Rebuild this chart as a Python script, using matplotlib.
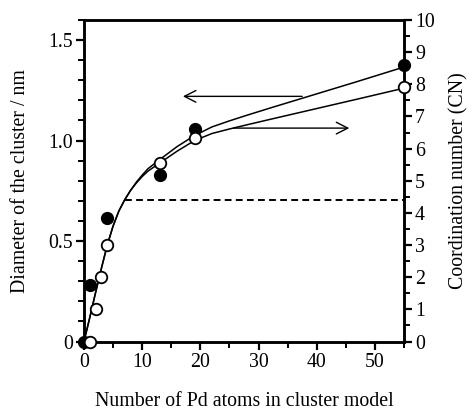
import matplotlib
matplotlib.use("Agg")
import matplotlib.pyplot as plt
from matplotlib.ticker import MultipleLocator

plt.rcParams['font.family'] = ['Liberation Serif', 'DejaVu Serif']

# Measured data: cluster diameter (nm, left axis)
d_atoms = [0, 1, 4, 13, 19, 55]
d_values = [0.0, 0.28, 0.615, 0.83, 1.06, 1.375]

# Measured data: coordination number (right axis)
cn_atoms = [1, 2, 3, 4, 13, 19, 55]
cn_values = [0.0, 1.0, 2.0, 3.0, 5.55, 6.32, 7.92]

# Fitted curve (diameter, nm)
fitd_atoms = [0, 1, 2, 3, 4, 5, 6, 7, 8, 9, 10, 11, 13, 16, 19, 22, 25, 28, 32, 37, 42, 47, 51, 55]
fitd_values = [0.0, 0.12, 0.245, 0.365, 0.48, 0.575, 0.65, 0.705, 0.752, 0.793, 0.828, 0.86,
               0.905, 0.97, 1.025, 1.068, 1.098, 1.126, 1.162, 1.206, 1.25, 1.294, 1.33, 1.366]

# Fitted curve (coordination number)
fitcn_atoms = [0, 1, 2, 3, 4, 5, 6, 7, 8, 9, 10, 11, 13, 16, 19, 22, 25, 28, 32, 37, 42, 47, 51, 55]
fitcn_values = [0.0, 0.75, 1.53, 2.28, 3.0, 3.59, 4.06, 4.41, 4.70, 4.93, 5.13, 5.30,
                5.55, 5.92, 6.25, 6.47, 6.61, 6.74, 6.91, 7.12, 7.33, 7.54, 7.71, 7.88]

# Dashed reference line (diameter units)
dash_x = [7, 55]
dash_y = [0.705, 0.705]

# Arrows (in diameter-axis data units): (start, end)
arrow_left = [(37.5, 1.22), (17.0, 1.22)]
arrow_right = [(25.7, 1.062), (45.6, 1.062)]

fig = plt.figure(figsize=(4.72, 4.15), dpi=100)
ax = fig.add_axes([84/472, (415-341.5)/415, 320/472, 321.5/415])
ax2 = ax.twinx()

fs = 14.3
lw_spine = 1.8

ax.plot(fitd_atoms, fitd_values, color='black', lw=1.1, zorder=2)
ax2.plot(fitcn_atoms, fitcn_values, color='black', lw=1.1, zorder=2)
ax.plot(dash_x, dash_y, color='black', lw=1.4, ls=(0, (3.5, 2.2)), zorder=1)

ax.plot(d_atoms, d_values, 'o', ms=8.3, mfc='black', mec='black', mew=1.2,
        clip_on=False, zorder=5)
ax2.plot(cn_atoms, cn_values, 'o', ms=8.3, mfc='white', mec='black', mew=1.3,
         clip_on=False, zorder=6)

for (x0, y0), (x1, y1) in [arrow_left, arrow_right]:
    ax.annotate('', xy=(x1, y1), xytext=(x0, y0),
                arrowprops=dict(arrowstyle='->,head_length=0.55,head_width=0.28',
                                lw=1.0, color='black', shrinkA=0, shrinkB=0,
                                mutation_scale=15))

ax.set_xlim(0, 55)
ax.set_ylim(0, 1.6)
ax2.set_ylim(0, 10)

ax.xaxis.set_major_locator(MultipleLocator(10))
ax.xaxis.set_minor_locator(MultipleLocator(5))
ax.yaxis.set_major_locator(MultipleLocator(0.5))
ax.yaxis.set_minor_locator(MultipleLocator(0.1))
ax2.yaxis.set_major_locator(MultipleLocator(1))
ax2.yaxis.set_minor_locator(MultipleLocator(0.5))

ax.set_yticks([0, 0.5, 1.0, 1.5])
ax.set_yticklabels(['0', '0.5', '1.0', '1.5'])

for a in (ax, ax2):
    for s in a.spines.values():
        s.set_linewidth(lw_spine)
ax.tick_params(axis='both', which='major', direction='out', length=6, width=1.6,
               labelsize=fs, pad=2, top=False)
ax.tick_params(axis='both', which='minor', direction='out', length=4, width=1.4, top=False)
ax2.tick_params(axis='y', which='major', direction='out', length=6, width=1.6,
                labelsize=fs, pad=2)
ax2.tick_params(axis='y', which='minor', direction='out', length=4, width=1.4)

ax.set_xlabel('Number of Pd atoms in cluster model', fontsize=fs, labelpad=15)
ax.set_ylabel('Diameter of the cluster / nm', fontsize=fs, labelpad=13)
ax2.set_ylabel('Coordination number (CN)', fontsize=fs, labelpad=10)

fig.savefig('out.png', dpi=100)
